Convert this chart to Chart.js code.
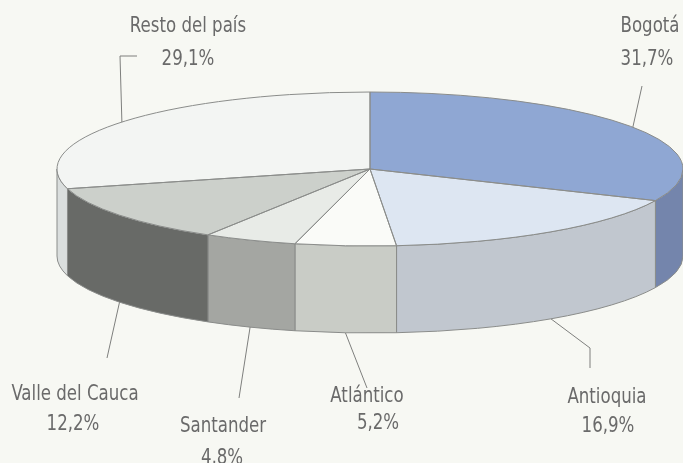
<!DOCTYPE html>
<html><head><meta charset="utf-8">
<script src="https://cdn.jsdelivr.net/npm/chart.js@4.4.1/dist/chart.umd.min.js"></script>
<style>
html,body{margin:0;padding:0;background:#f7f8f3;width:683px;height:463px;overflow:hidden}
canvas{display:block}
</style>
</head><body>
<canvas id="c" width="683" height="463"></canvas>
<script>
// ---- data ----
const categories = ['Bogotá', 'Antioquia', 'Atlántico', 'Santander', 'Valle del Cauca', 'Resto del país'];
const shares = [31.7, 16.9, 5.2, 4.8, 12.2, 29.1];

// ---- styles ----
const topColors  = ['#8fa7d3', '#dde6f2', '#fafbf8', '#e8ebe7', '#ccd0cb', '#f3f5f3'];
const sideColors = ['#7485ac', '#c1c7cf', '#c9ccc6', '#a4a6a2', '#686a67', '#dadedd'];
const edgeColor = '#8a8c8a';
const textColor = '#6a6a6a';
const tilt = 0.246;   // vertical squash of the disc
const depth = 87;     // wall height in px
const textSqueeze = 0.84; // condensed lettering

// label placement: name/pct text centre x and baselines, leader waypoints after the slice anchor
const labelLayout = [
  { nx: 650, ny: 32,  px: 647, py: 65,  leader: [[642, 86]] },
  { nx: 607, ny: 403, px: 608, py: 432, leader: [[590, 348], [590, 368]] },
  { nx: 367, ny: 402, px: 378, py: 429, leader: [[367, 388]] },
  { nx: 223, ny: 432, px: 222, py: 464, leader: [[239, 398]] },
  { nx: 75,  ny: 400, px: 73,  py: 430, leader: [[107, 358]] },
  { nx: 188, ny: 32,  px: 188, py: 65,  leader: [[120, 56], [137, 56]] }
];

const fmtPct = v => v.toFixed(1).replace('.', ',') + '%';

function drawText(ctx, t, x, y) {
  ctx.save();
  ctx.translate(x, y);
  ctx.scale(textSqueeze, 1);
  ctx.fillText(t, 0, 0);
  ctx.restore();
}

const pie3d = {
  id: 'pie3d',
  beforeDatasetsDraw(chart) {
    const ctx = chart.ctx;
    const arcs = chart.getDatasetMeta(0).data;
    const cx = arcs[0].x, cy = arcs[0].y, a = arcs[0].outerRadius, b = a * tilt;
    ctx.save();
    // side walls (front half only)
    arcs.forEach((arc, i) => {
      const s = Math.max(arc.startAngle, 0);
      const e = Math.min(arc.endAngle, Math.PI);
      if (e <= s) return;
      ctx.beginPath();
      ctx.ellipse(cx, cy, a, b, 0, s, e, false);
      ctx.ellipse(cx, cy + depth, a, b, 0, e, s, true);
      ctx.closePath();
      ctx.fillStyle = sideColors[i];
      ctx.fill();
      ctx.lineWidth = 1;
      ctx.strokeStyle = edgeColor;
      ctx.stroke();
    });
    // squash the top face into an ellipse
    ctx.translate(0, cy);
    ctx.scale(1, tilt);
    ctx.translate(0, -cy);
  },
  afterDatasetsDraw(chart) {
    const ctx = chart.ctx;
    ctx.restore();
    const arcs = chart.getDatasetMeta(0).data;
    const cx = arcs[0].x, cy = arcs[0].y, a = arcs[0].outerRadius, b = a * tilt;
    // top-face outlines
    ctx.save();
    ctx.lineWidth = 1;
    ctx.strokeStyle = edgeColor;
    arcs.forEach(arc => {
      ctx.beginPath();
      ctx.moveTo(cx, cy);
      ctx.ellipse(cx, cy, a, b, 0, arc.startAngle, arc.endAngle, false);
      ctx.closePath();
      ctx.stroke();
    });
    // leader lines and labels
    ctx.strokeStyle = '#7e7f7d';
    ctx.fillStyle = textColor;
    ctx.font = '22px "Liberation Sans Narrow", "DejaVu Sans Condensed", sans-serif';
    ctx.textAlign = 'center';
    ctx.textBaseline = 'alphabetic';
    arcs.forEach((arc, i) => {
      const mid = (arc.startAngle + arc.endAngle) / 2;
      const front = Math.sin(mid) > 0;
      const ax = cx + a * Math.cos(mid);
      const ay = cy + b * Math.sin(mid) + (front ? depth : 0);
      const L = labelLayout[i];
      ctx.beginPath();
      ctx.moveTo(ax, ay);
      L.leader.forEach(p => ctx.lineTo(p[0], p[1]));
      ctx.stroke();
      drawText(ctx, categories[i], L.nx, L.ny);
      drawText(ctx, fmtPct(shares[i]), L.px, L.py);
    });
    ctx.restore();
  }
};

new Chart(document.getElementById('c'), {
  type: 'pie',
  data: {
    labels: categories,
    datasets: [{
      data: shares,
      backgroundColor: topColors,
      borderWidth: 0,
      radius: 313,
      clip: false
    }]
  },
  options: {
    responsive: false,
    animation: false,
    events: [],
    layout: { padding: { left: 57, right: 0, top: 0, bottom: 125 } },
    plugins: { legend: { display: false }, tooltip: { enabled: false } }
  },
  plugins: [pie3d]
});
</script>
</body></html>
